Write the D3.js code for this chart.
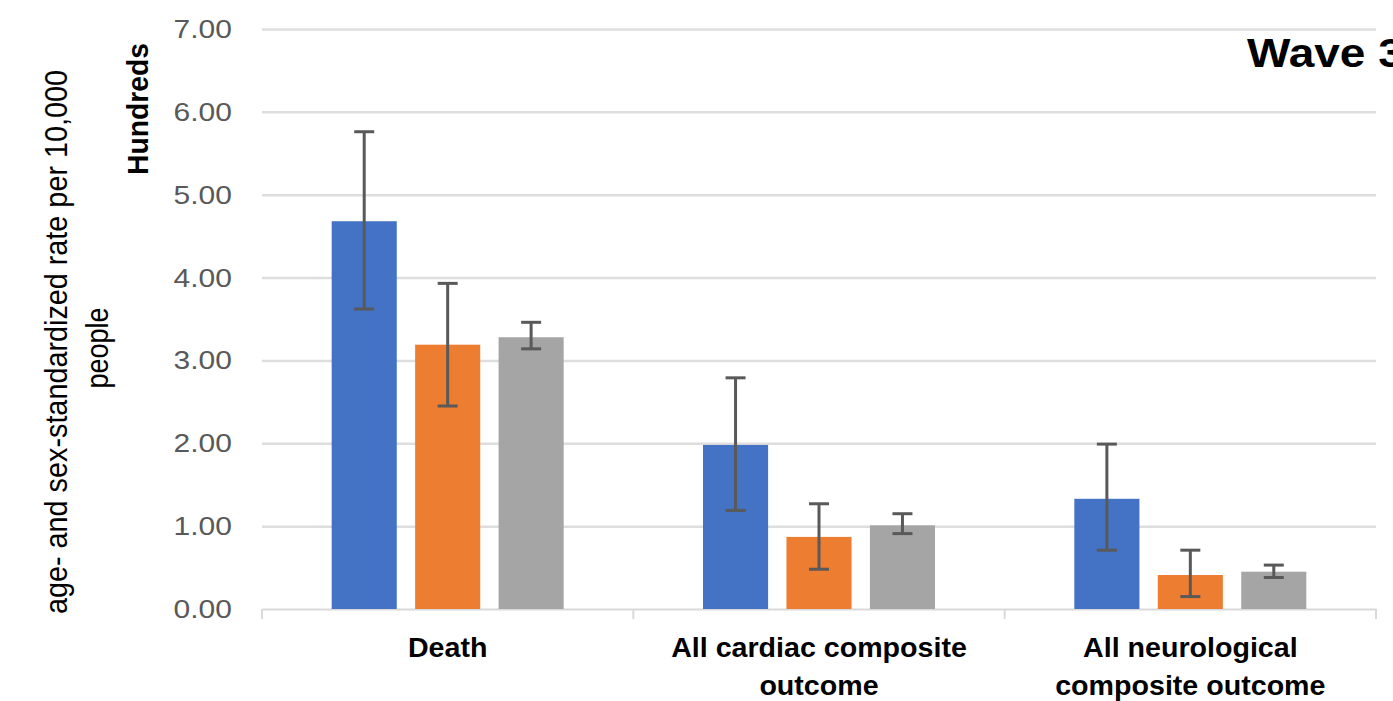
<!DOCTYPE html>
<html>
<head>
<meta charset="utf-8">
<script src="https://cdn.jsdelivr.net/npm/d3@7"></script>
<style>
  html, body { margin: 0; padding: 0; background: #fff; }
  svg { display: block; font-family: "Liberation Sans", Arial, sans-serif; }
</style>
</head>
<body>
<svg id="chart" width="1393" height="701"></svg>
<script>
// ---- data ----
const categories = ["Death", "All cardiac composite outcome", "All neurological composite outcome"];
const categoryLines = [["Death"], ["All cardiac composite", "outcome"], ["All neurological", "composite outcome"]];
const seriesNames = ["Series 1", "Series 2", "Series 3"];
const series1Values = [4.68, 1.98, 1.33];
const series1Low = [3.62, 1.19, 0.71];
const series1High = [5.76, 2.79, 1.99];
const series2Values = [3.19, 0.87, 0.41];
const series2Low = [2.45, 0.48, 0.15];
const series2High = [3.93, 1.27, 0.71];
const series3Values = [3.28, 1.01, 0.45];
const series3Low = [3.14, 0.91, 0.38];
const series3High = [3.46, 1.15, 0.53];
const yTicks = [0, 1, 2, 3, 4, 5, 6, 7];
const yTitleLines = ["age- and sex-standardized rate per 10,000", "people"];
const unitLabel = "Hundreds";
const chartTitle = "Wave 3";

// ---- styles / layout ----
const colors = ["#4472C4", "#ED7D31", "#A5A5A5"];
const plotLeft = 262, plotRight = 1376, plotTop = 29, plotBottom = 609;

const svg = d3.select("#chart");

const x0 = d3.scaleBand().domain(categories).range([plotLeft, plotRight]);
const groupW = 232;
const x1 = d3.scaleBand().domain(seriesNames).range([0, groupW]).paddingInner(0.22);
const y = d3.scaleLinear().domain([0, 7]).range([plotBottom, plotTop]);

const seriesData = [
  { name: seriesNames[0], v: series1Values, lo: series1Low, hi: series1High, c: colors[0] },
  { name: seriesNames[1], v: series2Values, lo: series2Low, hi: series2High, c: colors[1] },
  { name: seriesNames[2], v: series3Values, lo: series3Low, hi: series3High, c: colors[2] }
];

// gridlines
const grid = svg.append("g")
  .attr("transform", `translate(${plotLeft},0)`)
  .call(d3.axisLeft(y).tickValues(yTicks.filter(t => t > 0)).tickSize(-(plotRight - plotLeft)).tickFormat(""));
grid.select(".domain").remove();
grid.selectAll("line").attr("stroke", "#dedede").attr("stroke-width", 2.5);

// tick labels
const yl = svg.append("g");
yl.selectAll("text").data(yTicks).join("text")
  .attr("transform", d => `translate(232,${y(d)}) scale(1.2,1)`)
  .attr("dy", "0.36em")
  .attr("text-anchor", "end")
  .attr("font-size", 25)
  .attr("fill", "#595959")
  .text(d => d3.format(".2f")(d));

// x axis
const xa = svg.append("g").attr("transform", `translate(0,${plotBottom})`)
  .call(d3.axisBottom(x0).tickSize(0).tickFormat(""));
xa.select(".domain").attr("stroke", "#d9d9d9").attr("stroke-width", 2);
const bounds = categories.map(c => x0(c)).concat([plotRight]);
svg.append("g").selectAll("line").data(bounds).join("line")
  .attr("x1", d => d).attr("x2", d => d)
  .attr("y1", plotBottom).attr("y2", plotBottom + 10)
  .attr("stroke", "#d9d9d9").attr("stroke-width", 2);

// bars
const groups = svg.append("g").selectAll("g").data(categories).join("g")
  .attr("transform", c => `translate(${x0(c) + (x0.bandwidth() - groupW) / 2},0)`);

groups.each(function(c, i) {
  const g = d3.select(this);
  seriesData.forEach(s => {
    g.append("rect")
      .attr("x", x1(s.name))
      .attr("y", y(s.v[i]))
      .attr("width", x1.bandwidth())
      .attr("height", y(0) - y(s.v[i]))
      .attr("fill", s.c);
  });
  seriesData.forEach(s => {
    const cx = x1(s.name) + x1.bandwidth() / 2;
    const eg = g.append("g").attr("stroke", "#595959").attr("stroke-width", 3);
    eg.append("line").attr("x1", cx).attr("x2", cx).attr("y1", y(s.hi[i])).attr("y2", y(s.lo[i]));
    eg.append("line").attr("x1", cx - 10).attr("x2", cx + 10).attr("y1", y(s.hi[i])).attr("y2", y(s.hi[i]));
    eg.append("line").attr("x1", cx - 10).attr("x2", cx + 10).attr("y1", y(s.lo[i])).attr("y2", y(s.lo[i]));
  });
});

// category labels
categories.forEach((c, i) => {
  const cx = x0(c) + x0.bandwidth() / 2;
  categoryLines[i].forEach((line, j) => {
    svg.append("text")
      .attr("transform", `translate(${cx},${657 + j * 38}) scale(1.06,1)`)
      .attr("text-anchor", "middle")
      .attr("font-size", 27)
      .attr("font-weight", "bold")
      .attr("fill", "#000")
      .text(line);
  });
});

// y axis titles
svg.append("text")
  .attr("transform", "translate(67,342) scale(1.15,1) rotate(-90)")
  .attr("text-anchor", "middle")
  .attr("font-size", 27)
  .attr("textLength", 544).attr("lengthAdjust", "spacingAndGlyphs")
  .attr("fill", "#000")
  .text(yTitleLines[0]);
svg.append("text")
  .attr("transform", "translate(108,348) scale(1.15,1) rotate(-90)")
  .attr("text-anchor", "middle")
  .attr("font-size", 27)
  .attr("fill", "#000")
  .text(yTitleLines[1]);
svg.append("text")
  .attr("transform", "translate(148,109) scale(1.1,1) rotate(-90)")
  .attr("text-anchor", "middle")
  .attr("font-size", 26)
  .attr("font-weight", "bold")
  .attr("textLength", 132).attr("lengthAdjust", "spacingAndGlyphs")
  .attr("fill", "#000")
  .text(unitLabel);

// title
svg.append("text")
  .attr("transform", "translate(1247,67) scale(1.15,1)")
  .attr("font-size", 40)
  .attr("font-weight", "bold")
  .attr("fill", "#000")
  .text(chartTitle);
</script>
</body>
</html>
